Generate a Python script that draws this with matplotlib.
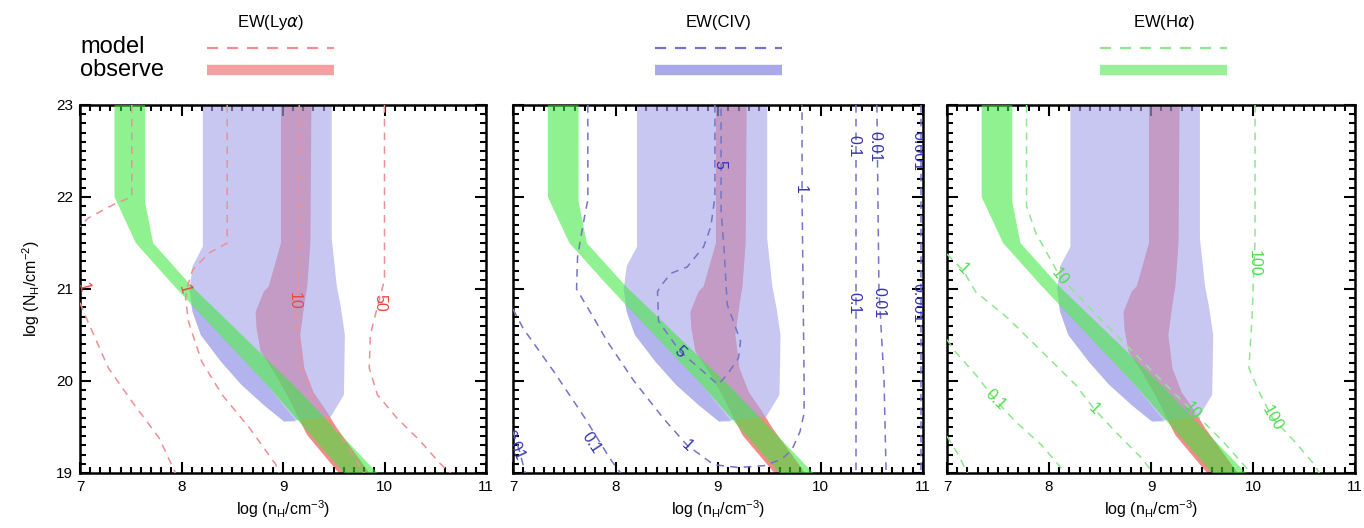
import numpy as np
import matplotlib.pyplot as plt
from matplotlib.ticker import MultipleLocator

plt.rcParams['font.family'] = ['Liberation Sans', 'DejaVu Sans']
plt.rcParams['mathtext.default'] = 'regular'

# observed regions (same in every panel), log n_H vs log N_H
lya_obs_x = [8.98, 8.98, 8.86, 8.81, 8.73, 8.74, 8.78, 8.91, 9.04, 9.17, 9.24, 9.55,
             9.85, 9.70, 9.53, 9.43, 9.30, 9.21, 9.17, 9.21, 9.24, 9.27, 9.28]
lya_obs_y = [23.0, 21.5, 21.03, 20.97, 20.75, 20.57, 20.32, 20.10, 19.85, 19.56, 19.41, 19.0,
             19.0, 19.23, 19.49, 19.67, 19.88, 20.14, 20.5, 20.83, 21.04, 21.5, 23.0]

civ_obs_x = [8.21, 9.48, 9.48, 9.53, 9.57, 9.61, 9.60, 9.47, 9.01, 8.81, 8.59, 8.39,
             8.19, 8.11, 8.08, 8.11, 8.21]
civ_obs_y = [23.0, 23.0, 21.55, 21.03, 20.8, 20.5, 19.85, 19.61, 19.56, 19.74, 19.96, 20.21,
             20.5, 20.75, 21.0, 21.25, 21.46]

# darker part of the CIV region, below the Halpha band
civ_low_x = [8.09, 8.11, 8.19, 8.39, 8.59, 8.81, 9.01, 9.13, 8.84]
civ_low_y = [20.85, 20.75, 20.5, 20.21, 19.96, 19.74, 19.56, 19.56, 19.96]

ha_obs_x = [7.64, 7.64, 7.72, 8.10, 9.10, 9.93, 9.60, 8.84, 7.93, 7.55, 7.34, 7.34]
ha_obs_y = [23.0, 21.95, 21.5, 21.03, 19.96, 19.0, 19.0, 19.96, 21.03, 21.5, 22.0, 23.0]

# model contours, EW(Lya)
lya_lines = [
    ([7.51, 7.51, 7.35, 7.08, 7.0], [23.0, 22.0, 21.93, 21.77, 21.68]),
    ([7.0, 7.08, 7.28, 7.51, 7.78, 7.94], [20.85, 20.64, 20.14, 19.78, 19.38, 19.0]),
    ([8.45, 8.45, 8.27, 8.11, 8.06, 8.04, 8.07, 8.20, 8.40, 8.67, 8.93, 8.96],
     [23.0, 21.5, 21.39, 21.21, 21.03, 20.9, 20.64, 20.21, 19.85, 19.49, 19.09, 19.0]),
    ([9.16, 9.16, 9.12, 9.14, 9.19, 9.28, 9.43, 9.62, 9.80],
     [23.0, 21.1, 20.85, 20.5, 20.14, 19.85, 19.6, 19.32, 19.0]),
    ([10.0, 10.0, 9.94, 9.86, 9.85, 9.93, 10.12, 10.35, 10.55, 10.65],
     [23.0, 21.1, 20.85, 20.5, 20.14, 19.85, 19.6, 19.35, 19.1, 19.0]),
]
lya_labels = [("1", 7.03, 21.02, -75), ("1", 8.03, 21.0, -75),
              ("10", 9.11, 20.87, -90), ("50", 9.95, 20.85, -90)]

# model contours, EW(CIV)
civ_lines = [
    ([7.73, 7.73, 7.68, 7.63, 7.62, 7.78, 7.92, 8.18, 8.47, 8.70, 8.96, 9.2, 9.45, 9.62,
      9.72, 9.80, 9.84, 9.84, 9.83, 9.82, 9.82],
     [23.0, 21.97, 21.68, 21.35, 21.0, 20.7, 20.43, 20.0, 19.59, 19.30, 19.09, 19.06, 19.08,
      19.15, 19.25, 19.45, 19.65, 20.0, 21.0, 22.0, 23.0]),
    ([7.0, 7.10, 7.40, 7.70, 7.95, 8.05], [20.78, 20.57, 20.1, 19.6, 19.15, 19.0]),
    ([7.0, 7.06, 7.12], [19.45, 19.25, 19.0]),
    ([8.97, 8.97, 8.93, 8.86, 8.70, 8.54, 8.44, 8.41, 8.42, 8.63, 8.89, 9.0, 9.09, 9.20,
      9.22, 9.15, 9.09, 9.06, 9.03, 9.03],
     [23.0, 22.0, 21.68, 21.46, 21.24, 21.17, 21.03, 20.97, 20.65, 20.32, 20.07, 19.96,
      20.07, 20.25, 20.43, 20.65, 20.83, 21.42, 21.86, 23.0]),
    ([10.35, 10.35], [23.0, 19.0]),
    ([10.55, 10.57, 10.62, 10.64], [23.0, 21.0, 20.0, 19.0]),
    ([10.98, 10.98], [23.0, 19.0]),
]
civ_labels = [("5", 9.02, 22.35, -90), ("1", 9.80, 22.08, -90),
              ("0.1", 10.33, 22.55, -90), ("0.01", 10.53, 22.55, -90), ("0.001", 10.95, 22.5, -90),
              ("0.1", 10.33, 20.85, -90), ("0.01", 10.57, 20.85, -90), ("0.001", 10.95, 20.85, -90),
              ("5", 8.63, 20.32, -45), ("1", 8.70, 19.30, -43), ("0.1", 7.76, 19.33, -57),
              ("0.01", 7.01, 19.3, -65)]

# model contours, EW(Halpha)
ha_lines = [
    ([7.78, 7.78, 7.87, 8.0, 8.11, 8.5, 9.0, 9.40, 9.7, 9.98],
     [23.0, 21.9, 21.61, 21.35, 21.13, 20.68, 20.12, 19.68, 19.35, 19.0]),
    ([7.0, 7.16, 7.28, 7.60, 7.93, 8.26, 8.44, 8.65, 8.91, 9.02],
     [21.38, 21.2, 20.97, 20.68, 20.32, 19.96, 19.7, 19.45, 19.16, 19.0]),
    ([7.0, 7.08, 7.28, 7.47, 7.67, 7.93, 8.16], [20.45, 20.32, 20.07, 19.8, 19.56, 19.3, 19.0]),
    ([7.0, 7.1, 7.2], [19.4, 19.22, 19.0]),
    ([10.02, 10.02, 10.01, 9.99, 9.96, 10.06, 10.19, 10.41, 10.58, 10.65],
     [23.0, 21.5, 21.28, 20.68, 20.14, 19.88, 19.6, 19.34, 19.12, 19.0]),
]
ha_labels = [("10", 8.11, 21.13, -50), ("10", 9.40, 19.68, -50), ("1", 7.16, 21.22, -45),
             ("1", 8.44, 19.7, -45), ("0.1", 7.47, 19.8, -45), ("100", 10.01, 21.28, -90),
             ("100", 10.19, 19.6, -60)]

titles = ["EW(Ly$\\mathit{\\alpha}$)", "EW(CIV)", "EW(H$\\mathit{\\alpha}$)"]
line_cols = ["#ef8f96", "#7474c8", "#8fe68f"]
label_cols = ["#e84848", "#3434b4", "#4ede4e"]
bar_cols = ["#f4a0a0", "#a9a9ea", "#98f098"]

red_fill = "#f28a8a"
blue_fill = (166/255, 166/255, 234/255)
green_fill = (60/255, 232/255, 60/255)

fig = plt.figure(figsize=(13.64, 5.28), dpi=100)
lefts = [80, 513, 947]
widths = [406, 410, 408]
axes = [fig.add_axes([l/1364, 55/528, w/1364, 368/528]) for l, w in zip(lefts, widths)]

panels = [(lya_lines, lya_labels), (civ_lines, civ_labels), (ha_lines, ha_labels)]
for i, ax in enumerate(axes):
    ax.fill(lya_obs_x, lya_obs_y, color=red_fill, lw=0, zorder=1)
    ax.fill(civ_obs_x, civ_obs_y, color=blue_fill, alpha=0.62, lw=0, zorder=2)
    ax.fill(civ_low_x, civ_low_y, color=blue_fill, alpha=0.6, lw=0, zorder=2.5)
    ax.fill(ha_obs_x, ha_obs_y, color=green_fill, alpha=0.57, lw=0, zorder=3)

    lines, labels = panels[i]
    for xs, ys in lines:
        ax.plot(xs, ys, color=line_cols[i], lw=1.1, dashes=(5, 4), zorder=4)
    for txt, x, y, rot in labels:
        ax.text(x, y, txt, color=label_cols[i], fontsize=11.5, rotation=rot,
                ha='center', va='center', rotation_mode='anchor', zorder=5, clip_on=True)

    ax.set_xlim(7, 11)
    ax.set_ylim(19, 23)
    ax.xaxis.set_major_locator(MultipleLocator(1))
    ax.yaxis.set_major_locator(MultipleLocator(1))
    ax.xaxis.set_minor_locator(MultipleLocator(0.1))
    ax.yaxis.set_minor_locator(MultipleLocator(0.1))
    ax.tick_params(which='both', direction='in', top=True, right=True, width=1.5, labelsize=11)
    ax.tick_params(which='major', length=8, pad=5)
    ax.tick_params(which='minor', length=4)
    for s in ax.spines.values():
        s.set_linewidth(1.8)
    ax.set_xlabel("log (n$_H$/cm$^{-3}$)", fontsize=11.5, labelpad=3)
    if i == 0:
        ax.set_ylabel("log (N$_H$/cm$^{-2}$)", fontsize=11.5, labelpad=10)
    else:
        ax.tick_params(labelleft=False)

# header legend
head_x0 = [207, 655, 1100]
for i in range(3):
    x0 = head_x0[i] / 1364
    x1 = (head_x0[i] + 127) / 1364
    fig.text((x0 + x1) / 2, 1 - 22/528, titles[i], ha='center', va='center', fontsize=12)
    fig.add_artist(plt.Line2D([x0, x1], [1 - 48/528] * 2, color=line_cols[i], lw=1.6,
                              dashes=(5, 4), transform=fig.transFigure))
    fig.add_artist(plt.Line2D([x0, x1], [1 - 70/528] * 2, color=bar_cols[i], lw=7.5,
                              solid_capstyle='butt', transform=fig.transFigure))
fig.text(80/1364, 1 - 47/528, "model", fontsize=17, va='center', ha='left')
fig.text(80/1364, 1 - 70/528, "observe", fontsize=17, va='center', ha='left')

fig.savefig("out.png", dpi=100)
